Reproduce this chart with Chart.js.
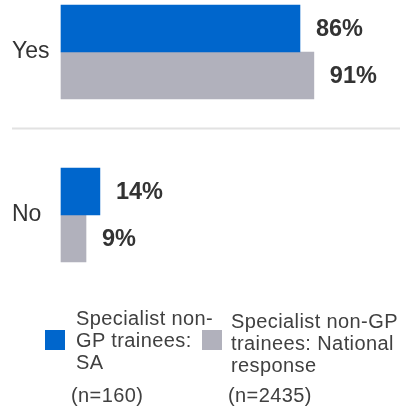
<!DOCTYPE html>
<html lang="en">
<head>
<meta charset="UTF-8">
<title>Specialist non-GP trainees</title>
<script src="https://cdn.jsdelivr.net/npm/chart.js"></script>
<style>
  html, body { margin: 0; padding: 0; background: #fff; }
  .wrap { position: relative; width: 400px; height: 411px; overflow: hidden; font-family: "Liberation Sans", Arial, sans-serif; }
  canvas { position: absolute; left: 0; top: 0; }
  .box { position: absolute; width: 20px; height: 20px; }
  .txt { position: absolute; font-size: 20px; line-height: 22px; color: #404040; white-space: nowrap; letter-spacing: 0.4px; }
</style>
</head>
<body>
<div class="wrap">
  <canvas id="grafico" width="400" height="411"></canvas>
  <div class="box" style="left:45px; top:330px; background:#0066cc;"></div>
  <div class="txt" style="left:76px; top:307px;">Specialist non-<br>GP trainees:<br>SA</div>
  <div class="txt" style="left:71px; top:384px;">(n=160)</div>
  <div class="box" style="left:202px; top:330px; background:#b1b1bc;"></div>
  <div class="txt" style="left:231px; top:310px;">Specialist non-GP<br>trainees: National<br>response</div>
  <div class="txt" style="left:228px; top:384px;">(n=2435)</div>
</div>
<script>
  const categorias = ['Yes', 'No'];
  const serieSA = [86, 14];
  const serieNacional = [91, 9];
  const nomesSeries = ['Specialist non-GP trainees: SA', 'Specialist non-GP trainees: National response'];

  // rotulos de valor ao lado das barras
  const rotulosPlugin = {
    id: 'rotulos',
    afterDatasetsDraw(chart) {
      const ctx = chart.ctx;
      ctx.save();
      ctx.font = 'bold 23.5px "Liberation Sans", Arial, sans-serif';
      ctx.fillStyle = '#333333';
      ctx.textAlign = 'left';
      ctx.textBaseline = 'middle';
      chart.data.datasets.forEach((ds, i) => {
        chart.getDatasetMeta(i).data.forEach((bar, j) => {
          ctx.fillText(ds.data[j] + '%', bar.x + 16, bar.y + 1);
        });
      });
      ctx.restore();
    }
  };

  // linha separando Yes / No
  const separadorPlugin = {
    id: 'separador',
    beforeDatasetsDraw(chart) {
      const y = chart.scales.y;
      const meio = (y.getPixelForValue(0) + y.getPixelForValue(1)) / 2 - 5;
      const ctx = chart.ctx;
      ctx.save();
      ctx.strokeStyle = '#e2e2e2';
      ctx.lineWidth = 2;
      ctx.beginPath();
      ctx.moveTo(12, meio);
      ctx.lineTo(chart.width, meio);
      ctx.stroke();
      ctx.restore();
    }
  };

  new Chart(document.getElementById('grafico').getContext('2d'), {
    type: 'bar',
    data: {
      labels: categorias,
      datasets: [
        { label: nomesSeries[0], data: serieSA, backgroundColor: '#0066cc', barThickness: 47, clip: false },
        { label: nomesSeries[1], data: serieNacional, backgroundColor: '#b1b1bc', barThickness: 47, clip: false }
      ]
    },
    options: {
      indexAxis: 'y',
      responsive: false,
      animation: false,
      layout: { padding: { left: 12, right: 0, top: 52, bottom: 196 } },
      plugins: { legend: { display: false }, tooltip: { enabled: false } },
      scales: {
        x: { display: false, min: 0, max: 122 },
        y: {
          offset: false,
          grid: { display: false },
          border: { display: false },
          ticks: {
            crossAlign: 'far',
            color: '#333333',
            font: { family: '"Liberation Sans", Arial, sans-serif', size: 23 }
          },
          afterFit(scale) { scale.width = 49; }
        }
      }
    },
    plugins: [separadorPlugin, rotulosPlugin]
  });
</script>
</body>
</html>
